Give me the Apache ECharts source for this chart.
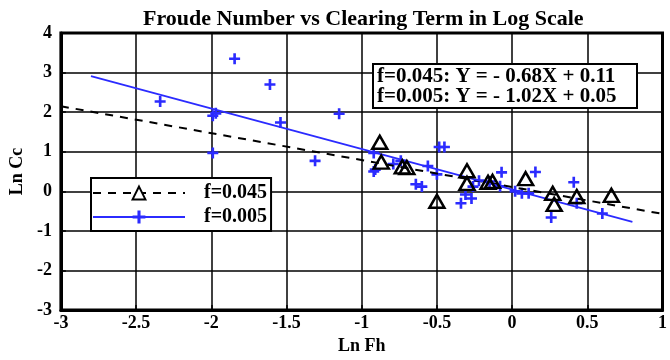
<!DOCTYPE html>
<html>
<head>
<meta charset="utf-8">
<script src="https://cdn.jsdelivr.net/npm/echarts@6/dist/echarts.min.js"></script>
<style>
  html, body { margin: 0; padding: 0; background: #fff; }
  #chart { width: 670px; height: 360px; }
</style>
</head>
<body>
<div id="chart"></div>
<script>
// measured points, ln(Fh) / ln(Cc)
var fh045 = [-0.88, -0.87, -0.73, -0.70, -0.50, -0.30, -0.30, -0.16, -0.13, 0.09, 0.27, 0.28, 0.43, 0.66];
var cc045 = [1.24, 0.74, 0.62, 0.60, -0.25, 0.52, 0.20, 0.23, 0.25, 0.32, -0.05, -0.33, -0.13, -0.10];

var fh005 = [-2.34, -1.845, -1.61, -1.54, -1.99, -1.97, -1.99, -1.15, -1.31, -0.92, -0.91, -0.92, -0.79, -0.74,
  -0.64, -0.60, -0.56, -0.50, -0.485, -0.45, -0.34, -0.31, -0.27, -0.26, -0.22, -0.15, -0.07, -0.08,
  0.02, 0.065, 0.11, 0.155, 0.26, 0.41, 0.43, 0.60];
var cc005 = [2.27, 3.35, 2.70, 1.74, 1.91, 1.97, 0.97, 1.96, 0.77, 0.97, 0.55, 0.50, 0.69, 0.77,
  0.18, 0.12, 0.64, 0.43, 1.12, 1.12, -0.30, -0.08, -0.18, 0.12, 0.27, 0.25, 0.48, 0.13,
  0.0, -0.05, -0.05, 0.49, -0.66, 0.23, -0.30, -0.56];

// fitted lines (end points)
var fitX045 = [-3, 1];
var fitY045 = [2.15, -0.57];
var fitX005 = [-2.8, 0.8];
var fitY005 = [2.91, -0.77];

var eqLines = ['f=0.045: Y = - 0.68X + 0.11', 'f=0.005: Y = - 1.02X + 0.05'];
var legendNames = ['f=0.045', 'f=0.005'];

function pairs(xs, ys) {
  return xs.map(function (x, i) { return [x, ys[i]]; });
}

var serif = '"Liberation Serif", "Times New Roman", serif';
var blue = '#2b2bff';
var plusPath = 'path://M3.8,0H6.2V3.8H10V6.2H6.2V10H3.8V6.2H0V3.8H3.8Z';

var dom = document.getElementById('chart');
var myChart = echarts.init(dom, null, { renderer: 'canvas' });

var option = {
  animation: false,
  title: {
    text: 'Froude Number vs Clearing Term in Log Scale',
    left: 138,
    top: 3,
    textStyle: { fontFamily: serif, fontWeight: 'bold', fontSize: 22, color: '#000' }
  },
  grid: {
    left: 53, right: 2, top: 33, bottom: 45,
    show: true, borderColor: '#000', borderWidth: 3, backgroundColor: '#fff'
  },
  legend: {
    data: legendNames,
    orient: 'vertical',
    left: 91, top: 178,
    itemWidth: 92, itemHeight: 16, itemGap: 4,
    padding: [5, 4, 4, 1],
    backgroundColor: '#fff',
    borderColor: '#000', borderWidth: 2, borderRadius: 0,
    textStyle: { fontFamily: serif, fontWeight: 'bold', fontSize: 20, color: '#000',
      lineHeight: 20, padding: [0, 0, 0, 14] }
  },
  xAxis: {
    type: 'value', min: -3, max: 1, interval: 0.5,
    name: 'Ln Fh', nameLocation: 'middle', nameGap: 24,
    nameTextStyle: { fontFamily: serif, fontWeight: 'bold', fontSize: 18, color: '#000' },
    axisLine: { show: true, onZero: false, lineStyle: { color: '#000', width: 3 } },
    axisTick: { show: true, inside: true, length: 5, lineStyle: { color: '#000', width: 1.5 } },
    axisLabel: { fontFamily: serif, fontWeight: 'bold', fontSize: 18, color: '#000', margin: 4 },
    splitLine: { show: true, lineStyle: { color: '#000', width: 1.5 } }
  },
  yAxis: {
    type: 'value', min: -3, max: 4, interval: 1,
    name: 'Ln Cc', nameLocation: 'middle', nameGap: 25,
    nameTextStyle: { fontFamily: serif, fontWeight: 'bold', fontSize: 18, color: '#000' },
    axisLine: { show: true, onZero: false, lineStyle: { color: '#000', width: 3 } },
    axisTick: { show: true, inside: true, length: 5, lineStyle: { color: '#000', width: 1.5 } },
    axisLabel: { fontFamily: serif, fontWeight: 'bold', fontSize: 18, color: '#000', margin: 9 },
    splitLine: { show: true, lineStyle: { color: '#000', width: 1.5 } }
  },
  series: [
    {
      name: legendNames[0],
      type: 'line',
      data: pairs(fitX045, fitY045),
      symbol: 'triangle', showSymbol: false,
      lineStyle: { color: '#000', width: 2, type: [8, 7] },
      itemStyle: { color: '#fff', borderColor: '#000', borderWidth: 2 },
      z: 3
    },
    {
      name: legendNames[1],
      type: 'line',
      data: pairs(fitX005, fitY005),
      symbol: plusPath, showSymbol: false,
      lineStyle: { color: blue, width: 1.8 },
      itemStyle: { color: blue },
      z: 3
    },
    {
      name: 'data 0.045',
      type: 'scatter',
      data: pairs(fh045, cc045),
      symbol: 'triangle', symbolSize: [15, 13],
      itemStyle: { color: 'rgba(0,0,0,0)', borderColor: '#000', borderWidth: 2.5, opacity: 1 },
      z: 4
    },
    {
      name: 'data 0.005',
      type: 'scatter',
      data: pairs(fh005, cc005),
      symbol: plusPath, symbolSize: 11,
      itemStyle: { color: blue, opacity: 1 },
      z: 2
    }
  ],
  graphic: [
    { type: 'rect', z: 100, shape: { x: 373, y: 64, width: 264, height: 44 },
      style: { fill: '#fff', stroke: '#000', lineWidth: 2 } },
    { type: 'text', z: 101, x: 377, y: 77,
      style: { text: eqLines[0], font: 'bold 21px ' + serif, fill: '#000', verticalAlign: 'middle' } },
    { type: 'text', z: 101, x: 377, y: 97,
      style: { text: eqLines[1], font: 'bold 21px ' + serif, fill: '#000', verticalAlign: 'middle' } }
  ]
};

myChart.setOption(option);
window.addEventListener('resize', myChart.resize);
</script>
</body>
</html>
